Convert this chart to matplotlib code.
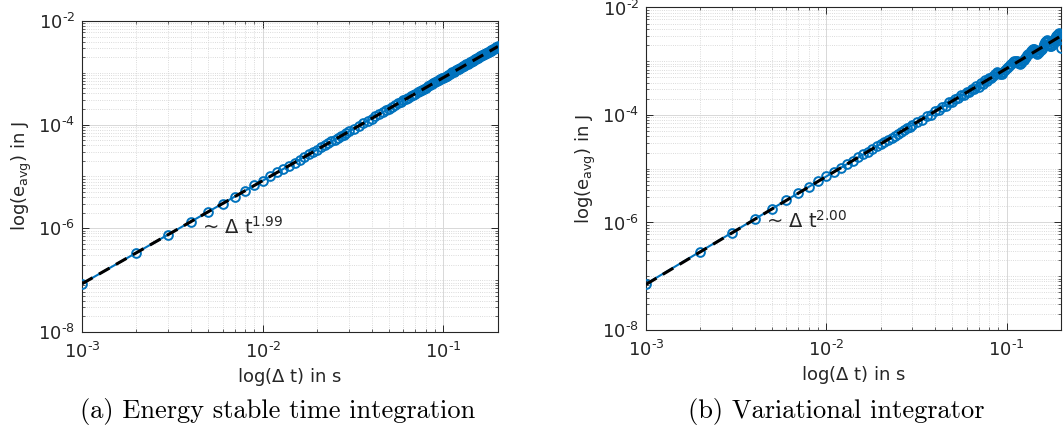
#! /usr/bin/env python3
# -*- coding: utf-8 -*-
import numpy as np
import matplotlib
matplotlib.use('Agg')
import matplotlib.pyplot as plt
from matplotlib.ticker import FixedLocator, LogLocator, NullFormatter

# time step sizes (ms): every step up to 30 ms, then every 2 ms
steps_ms = ([1, 2, 3, 4, 5, 6, 7, 8, 9, 10, 11, 12, 13, 14, 15, 16, 17, 18, 19, 20,
             21, 22, 23, 24, 25, 26, 27, 28, 29, 30]
            + list(range(32, 201, 2)))

# (a) energy stable time integration, average energy error in 1e-6 J
err_a = [0.085, 0.338, 0.757, 1.341, 2.091, 3.006, 4.085, 5.328, 6.736, 8.306,
         10.04, 11.94, 14.00, 16.23, 18.61, 21.17, 23.88, 26.76, 29.80, 33.00,
         36.36, 39.88, 43.58, 47.43, 51.44, 55.62, 59.96, 64.45, 69.12, 73.94,
         84.07, 94.85, 106.3, 118.4, 131.1, 144.4, 158.5, 173.1, 188.4, 204.3,
         220.9, 238.2, 256.1, 274.6, 293.7, 313.5, 334.0, 355.1, 376.8, 399.2,
         422.2, 445.9, 470.1, 495.1, 520.7, 546.9, 573.7, 601.2, 629.4, 658.2,
         687.6, 717.7, 748.4, 779.8, 811.8,
         844.4, 877.6, 911.5, 946.1, 981.3, 1017, 1053.5, 1091, 1128.4, 1167,
         1205.8, 1246, 1285.8, 1327, 1368.3, 1411, 1453.3, 1497, 1541.0, 1586,
         1631.2, 1677, 1723.8, 1771, 1819.0, 1868, 1916.7, 1967, 2017.1, 2068,
         2120.1, 2173, 2225.4, 2279, 2333.4, 2388, 2444.0, 2500, 2557.1, 2615,
         2672.8, 2732, 2791.0, 2851, 2911.7, 2973, 3034.9, 3098, 3160.7, 3225]

# (b) variational integrator, average energy error in 1e-6 J
err_b = [0.072, 0.288, 0.648, 1.152, 1.80, 2.592, 3.528, 4.608, 5.832, 7.20,
         8.712, 10.37, 12.17, 14.11, 16.20, 18.43, 20.81, 23.33, 25.99, 28.80,
         31.75, 34.85, 38.09, 41.47, 45.00, 48.67, 52.49, 56.45, 60.55, 64.80,
         75.2, 81.6, 96.1, 101.9, 117.5, 123.2, 143.6, 149.4, 170.9, 174.6,
         198.6, 203.7, 234.8, 234.9, 267.0, 265.7, 309.6, 304.2, 352.9, 338.7,
         391.9, 374.6, 440.9, 420.5, 483.8, 484.1, 538.5, 585.8, 624.5, 606.5,
         572.8, 585.3, 630.4, 677.7, 734.4,
         786.6, 841.1, 898.0, 949.0, 1001.9, 1029.6, 991.8, 920.4, 902.3, 943.5,
         1007.3, 1073.9, 1143.1, 1215.0, 1289.8, 1367.4, 1447.9, 1531.5, 1604.3, 1665.2,
         1684.1, 1612.4, 1473.4, 1387.8, 1409.4, 1497.2, 1605.1, 1717.2, 1833.3, 1972.2,
         2116.4, 2246.3, 2361.0, 2438.5, 2330.5, 2087.4, 1918.3, 1895.8, 2007.5, 2169.5,
         2337.2, 2535.1, 2740.0, 2926.5, 3119.0, 3264.7, 3387.3, 3263.9, 2681.6, 1728.0]

orders = ['1.99', '2.00']
captions = ['(a) Energy stable time integration', '(b) Variational integrator']
xticks = [1e-3, 1e-2, 1e-1]
yticks = [1e-8, 1e-6, 1e-4, 1e-2]

blue = '#0072BD'
txt = '#262626'
plt.rcParams['mathtext.fontset'] = 'dejavusans'


def pow10(v):
    return r'$10^{\text{-}%d}$' % round(-np.log10(v))


fig = plt.figure(figsize=(10.63, 4.33), dpi=100)
axes = [fig.add_axes([0.0771, 0.2333, 0.3913, 0.7182]),
        fig.add_axes([0.6077, 0.2379, 0.3904, 0.7448])]

for ax, err, order in zip(axes, (err_a, err_b), orders):
    dt = np.array(steps_ms) * 1e-3
    e = np.array(err) * 1e-6
    ax.loglog(dt, e, '-o', color=blue, lw=1.5, ms=6.3, mfc='none', mew=1.4,
              zorder=3)
    # least squares fit in log-log space
    p = np.polyfit(np.log10(dt), np.log10(e), 1)
    fit_dt = np.array([1e-3, 0.2])
    ax.loglog(fit_dt, 10**np.polyval(p, np.log10(fit_dt)), '--', color='k',
              lw=2.2, dashes=(4, 2.4), zorder=4)
    ax.text(4.6e-3, 8.0e-7, r'~ $\Delta$ t$^{%s}$' % order, fontsize=14,
            color=txt, va='baseline', ha='left')

    ax.set_xlim(1e-3, 0.2)
    ax.set_ylim(1e-8, 1e-2)
    ax.xaxis.set_major_locator(FixedLocator(xticks))
    ax.set_xticklabels([pow10(v) for v in xticks])
    ax.yaxis.set_major_locator(FixedLocator(yticks))
    ax.set_yticklabels([pow10(v) for v in yticks])
    for axis in (ax.xaxis, ax.yaxis):
        axis.set_minor_locator(LogLocator(base=10, subs=np.arange(1, 10),
                                          numticks=100))
        axis.set_minor_formatter(NullFormatter())
    ax.tick_params(which='both', direction='in', top=True, right=True,
                   colors=txt, labelsize=13)
    ax.tick_params(axis='x', pad=7)
    ax.tick_params(axis='y', pad=5)
    ax.tick_params(which='major', length=5, width=0.7)
    ax.tick_params(which='minor', length=2.5, width=0.5)
    ax.grid(which='major', color='#d8d8d8', lw=0.7, ls='-')
    ax.grid(which='minor', color='#cfcfcf', lw=0.6, ls=':')
    ax.set_axisbelow(True)
    for s in ax.spines.values():
        s.set_color(txt)
        s.set_linewidth(0.8)
    ax.set_xlabel(r'log($\Delta$ t) in s', fontsize=13, color=txt,
                  labelpad=3)
    ax.set_ylabel(r'log(e$_{\mathregular{avg}}$) in J', fontsize=13,
                  color=txt, labelpad=3)

fig.text(278 / 1063, 1 - 418 / 433, captions[0], fontsize=19,
         family='cmr10', ha='center', va='baseline')
fig.text(836 / 1063, 1 - 418 / 433, captions[1], fontsize=19,
         family='cmr10', ha='center', va='baseline')

fig.savefig('out.png', dpi=100)
